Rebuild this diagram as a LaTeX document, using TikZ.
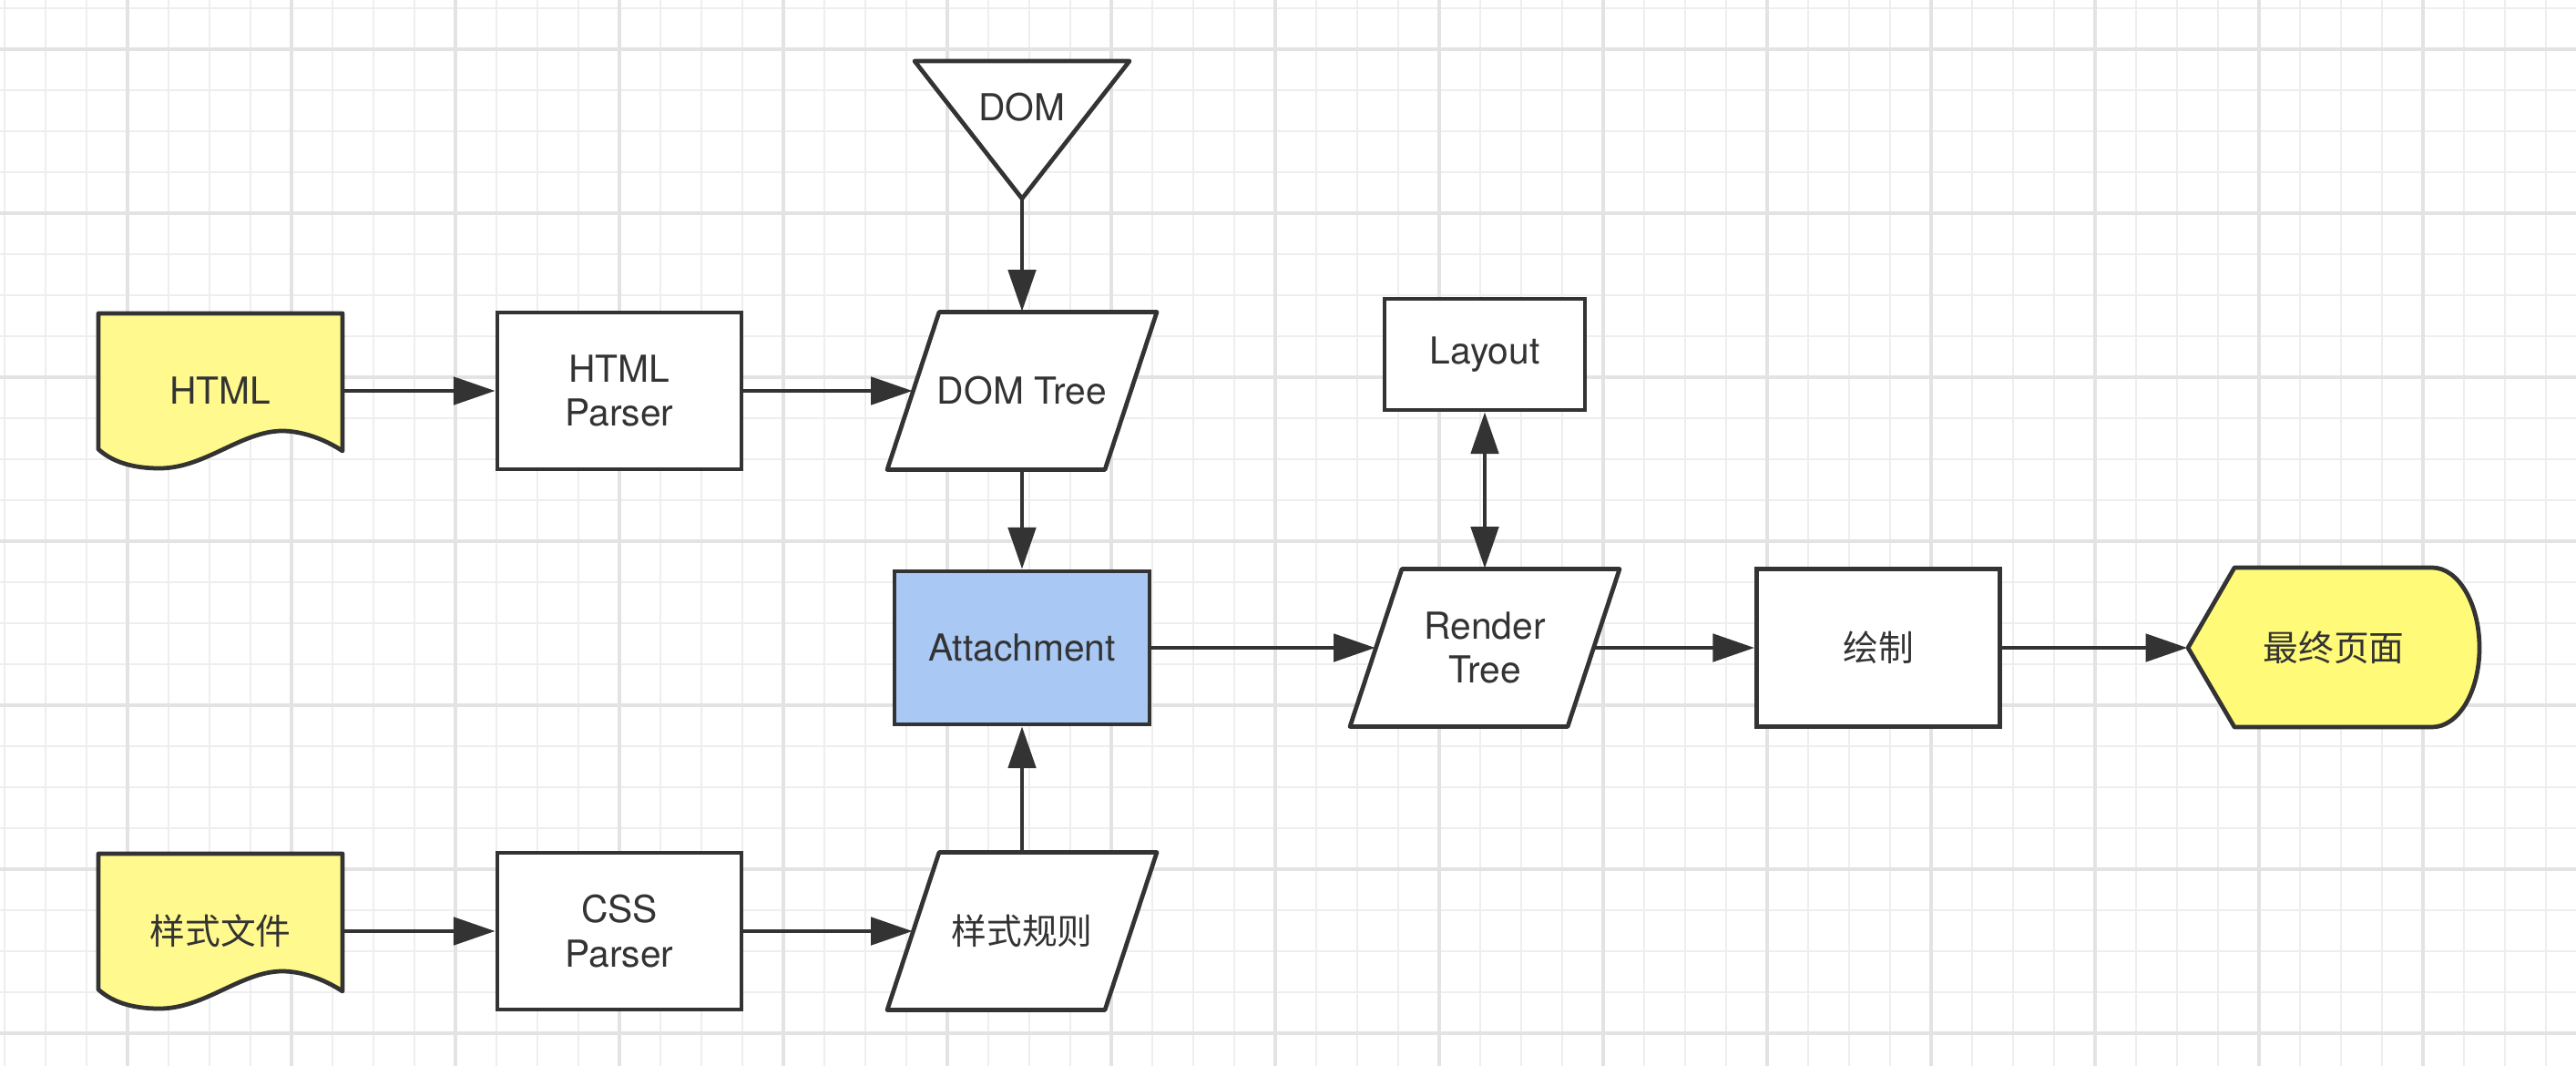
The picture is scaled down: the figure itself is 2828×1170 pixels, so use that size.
\documentclass[tikz,border=0pt]{standalone}
\usepackage{fontspec}
\setmainfont{TeX Gyre Heros}
\newfontfamily\cjk{Noto Sans CJK SC}[Scale=0.95]
\usetikzlibrary{arrows.meta}

\definecolor{ink}{HTML}{333333}
\definecolor{docyellow}{HTML}{FFF98E}
\definecolor{pageyellow}{HTML}{FFFA78}
\definecolor{attblue}{HTML}{A9C8F4}
\definecolor{gridminor}{HTML}{EEEEEE}
\definecolor{gridmajor}{HTML}{E3E3E3}

\tikzset{
  textnode/.style={text=ink, align=center, inner sep=0pt, font=\fontsize{11.6}{13.8}\selectfont},
  docnode/.style={textnode, minimum width=2.68cm, minimum height=1.70cm},
  procbox/.style={textnode, draw=ink, fill=white, line width=1.35pt, rectangle, minimum width=2.68cm, minimum height=1.72cm},
  paranode/.style={textnode, minimum width=2.39cm, minimum height=1.73cm},
  outline/.style={draw=ink, line width=1.35pt, line join=round},
  link/.style={draw=ink, line width=1.25pt, ->},
}

\begin{document}
\begin{tikzpicture}[x=0.01cm,y=-0.01cm,>={Triangle[length=13pt,width=8.6pt]}]
    \fill[white] (0,0) rectangle (2828,1170);
    \useasboundingbox (0,0) rectangle (2828,1170);
    \foreach \x in {5,50,...,2800} \draw[gridminor,line width=0.6pt] (\x,0) -- (\x,1170);
    \foreach \y in {9,54,...,1170} \draw[gridminor,line width=0.6pt] (0,\y) -- (2828,\y);
    \foreach \x in {140,320,...,2828} \draw[gridmajor,line width=0.9pt] (\x,0) -- (\x,1170);
    \foreach \y in {54,234,...,1170} \draw[gridmajor,line width=0.9pt] (0,\y) -- (2828,\y);

    \foreach \y in {344,937}
      \filldraw[outline,fill=docyellow,shift={(108,\y)}] (0,0) -- (268,0) -- (268,151)
        .. controls (247,137) and (222,129) .. (202,129)
        .. controls (157,129) and (117,170) .. (67,170)
        .. controls (32,170) and (12,160) .. (0,149) -- cycle;
    \node[docnode] (html) at (242,429) {HTML};
    \node[docnode] (css) at (242,1022) {\cjk 样式文件};

    \node[procbox] (hparser) at (680,429) {HTML\\Parser};
    \node[procbox] (cparser) at (680,1022) {CSS\\Parser};

    \foreach \cx/\cy in {1122/429,1122/1022,1630/711}
      \filldraw[outline,fill=white,shift={(\cx,\cy)}] (-148,86.5) -- (91,86.5) -- (148,-86.5) -- (-91,-86.5) -- cycle;
    \node[paranode] (domtree) at (1122,429) {DOM Tree};
    \node[paranode] (rules) at (1122,1022) {\cjk 样式规则};
    \node[paranode] (rtree) at (1630,711) {Render\\Tree};

    \node[procbox,fill=attblue,minimum width=2.80cm,minimum height=1.68cm] (attach) at (1122,711) {Attachment};

    \filldraw[outline,fill=white] (1004,67) -- (1240,67) -- (1122,218) coordinate (domtip) -- cycle;
    \node[textnode] (dom) at (1122,118) {DOM};

    \node[procbox,minimum width=2.20cm,minimum height=1.22cm] (layout) at (1630,389) {Layout};
    \node[procbox,minimum width=2.67cm,minimum height=1.73cm] (paint) at (2062,711) {\cjk 绘制};

    \filldraw[outline,fill=pageyellow] (2402,711) -- (2453,623) -- (2670,623)
      .. controls (2699,623) and (2722,663) .. (2722,711)
      .. controls (2722,759) and (2699,798) .. (2670,798) -- (2453,798) -- cycle;
    \node[docnode,minimum width=3.20cm,minimum height=1.75cm] (page) at (2562,711) {\cjk 最终页面};

    \draw[link] (html) -- (hparser);
    \draw[link] (hparser) -- (domtree);
    \draw[link] (domtip) -- (domtree);
    \draw[link] (domtree) -- (attach);
    \draw[link] (css) -- (cparser);
    \draw[link] (cparser) -- (rules);
    \draw[link] (rules) -- (attach);
    \draw[link] (attach) -- (rtree);
    \draw[link,<->] (layout) -- (rtree);
    \draw[link] (rtree) -- (paint);
    \draw[link] (paint) -- (page);
\end{tikzpicture}
\end{document}
